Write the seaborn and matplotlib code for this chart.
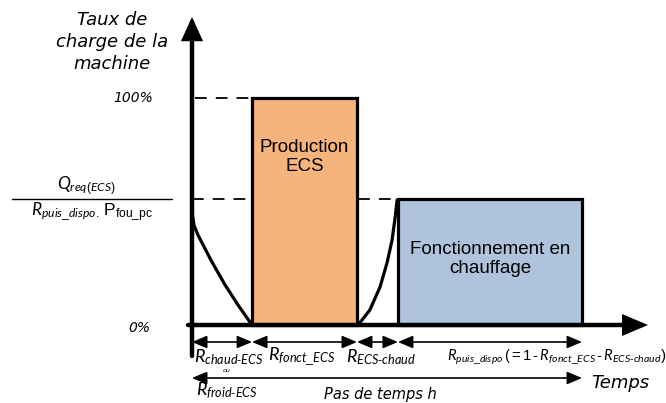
import numpy as np
import pandas as pd
import matplotlib
matplotlib.use("Agg")
import matplotlib.pyplot as plt
import seaborn as sns

# ---------------- data ----------------
phases = ["chaud-ECS", "fonct_ECS", "ECS-chaud", "puis_dispo"]
durations = [0.154, 0.269, 0.105, 0.472]          # fraction of the time step h
bar_phase_index = [1, 3]
bar_loads = [1.0, 0.555]                            # machine load rate
bar_labels = ["Production\nECS", "Fonctionnement en\nchauffage"]
bar_colors = ["#F6B47C", "#B0C3DD"]
# transition curves
cool_t = [0.0, 0.005, 0.0154, 0.051, 0.085, 0.118, 0.154]
cool_load = [0.50, 0.44, 0.396, 0.278, 0.176, 0.088, 0.0]
heat_t = [0.426, 0.456, 0.482, 0.500, 0.513, 0.521, 0.526]
heat_load = [0.0, 0.066, 0.167, 0.273, 0.374, 0.476, 0.551]
ytick_labels = ["0%", "100%"]
ytick_values = [0.0, 1.0]

# ---------------- style ----------------
sns.set_theme(style="white")
plt.rcParams["font.family"] = ["DejaVu Sans"]
plt.rcParams["text.color"] = "black"
plt.rcParams["mathtext.fontset"] = "custom"
plt.rcParams["mathtext.it"] = "Lato:italic"
plt.rcParams["mathtext.rm"] = "Liberation Sans"
plt.rcParams["mathtext.default"] = "it"

fig = plt.figure(figsize=(6.66, 4.03), dpi=100)
ax = fig.add_axes([0, 0, 1, 1])

# pixel <-> data helpers (layout only)
X0, SX, Y0, SY = 192.0, 390.0, 325.0, 227.0
def dx(p):
    return (p - X0) / SX
def dy(p):
    return (Y0 - p) / SY

ax.set_xlim(dx(0), dx(666))
ax.set_ylim(dy(403), dy(0))
ax.axis("off")

starts = np.concatenate([[0.0], np.cumsum(durations)[:-1]])
ends = np.cumsum(durations)

# bars
for i, load, lab, col in zip(bar_phase_index, bar_loads, bar_labels, bar_colors):
    ax.bar(starts[i], load, width=durations[i], align="edge", color=col,
           edgecolor="black", linewidth=2.3, zorder=2)

ax.text((starts[1] + ends[1]) / 2, dy(157), bar_labels[0], ha="center", va="center",
        fontsize=13.5, family="Liberation Sans", linespacing=1.15, zorder=3)
ax.text((starts[3] + ends[3]) / 2, dy(259), bar_labels[1], ha="center", va="center",
        fontsize=13.5, family="Liberation Sans", linespacing=1.15, zorder=3)

# transition curves
curves = pd.DataFrame({
    "t": cool_t + heat_t,
    "load": cool_load + heat_load,
    "curve": ["cool"] * len(cool_t) + ["heat"] * len(heat_t),
})
sns.lineplot(data=curves, x="t", y="load", units="curve", estimator=None, sort=False,
             color="black", linewidth=2.3, ax=ax, zorder=3)

# dashed reference lines
ax.plot([dx(195), starts[1]], [bar_loads[0]] * 2, color="black", lw=1.3,
        ls=(0, (6.5, 5)), zorder=1)
ax.plot([dx(192), starts[3]], [bar_loads[1]] * 2, color="black", lw=1.3,
        ls=(0, (6.5, 5)), zorder=1)

# main axes arrows
ax.annotate("", xy=(0, dy(17)), xytext=(0, dy(356)),
            arrowprops=dict(arrowstyle="-|>,head_length=1.2,head_width=0.55",
                            lw=3.2, color="black", shrinkA=0, shrinkB=0,
                            mutation_scale=10, joinstyle="miter"), zorder=4)
ax.annotate("", xy=(dx(648), 0), xytext=(dx(188), 0),
            arrowprops=dict(arrowstyle="-|>,head_length=1.3,head_width=0.55",
                            lw=3.2, color="black", shrinkA=0, shrinkB=0,
                            mutation_scale=10, joinstyle="miter"), zorder=4)

# y tick labels
ax.text(dx(153), ytick_values[1], ytick_labels[1], ha="right", va="center",
        fontsize=10, style="italic")
ax.text(dx(150), dy(328), ytick_labels[0], ha="right", va="center",
        fontsize=10, style="italic")

# y axis title
ax.text(dx(112), dy(42), "Taux de\ncharge de la\nmachine", ha="center", va="center",
        fontsize=13, style="italic", linespacing=1.3)

# fraction
ax.text(dx(86), dy(186), r"$Q_{req(ECS)}$", ha="center", va="center", fontsize=12.5)
ax.plot([dx(12), dx(172)], [dy(199)] * 2, color="black", lw=1.0)
ax.text(dx(92), dy(212), r"$R_{puis\_dispo.}\,\mathrm{P}_{\mathrm{fou\_pc}}$",
        ha="center", va="center", fontsize=12.5)

# phase dimension arrows
for s, e in zip(starts, ends):
    ax.annotate("", xy=(e, dy(342)), xytext=(s, dy(342)),
                arrowprops=dict(arrowstyle="<|-|>,head_length=0.9,head_width=0.38",
                                lw=1.2, color="black", shrinkA=0, shrinkB=0,
                                mutation_scale=10))
ax.annotate("", xy=(ends[-1], dy(378)), xytext=(0, dy(378)),
            arrowprops=dict(arrowstyle="<|-|>,head_length=0.9,head_width=0.38",
                            lw=1.2, color="black", shrinkA=0, shrinkB=0,
                            mutation_scale=10))

# phase labels
lab_y = dy(357)
ax.text(dx(194), lab_y, r"$R_{chaud\text{-}ECS}$", ha="left", va="center", fontsize=13)
ax.text(dx(302), lab_y, r"$R_{fonct\_ECS}$", ha="center", va="center", fontsize=13)
ax.text(dx(381), lab_y, r"$R_{ECS\text{-}chaud}$", ha="center", va="center", fontsize=13)
ax.text(dx(447), lab_y,
        r"$R_{puis\_dispo}\,(=1\,\text{-}\,R_{fonct\_ECS}\,\text{-}\,R_{ECS\text{-}chaud})$",
        ha="left", va="center", fontsize=10.7)
ax.text(dx(227), dy(371), "ou", ha="center", va="center", fontsize=4.5, style="italic")
ax.text(dx(196), dy(391), r"$R_{froid\text{-}ECS}$", ha="left", va="center", fontsize=13)

ax.text(dx(380), dy(394), "Pas de temps h", ha="center", va="center", fontsize=10.5,
        style="italic")
ax.text(dx(620), dy(383), "Temps", ha="center", va="center", fontsize=13, style="italic")

fig.savefig("out.png", dpi=100)
